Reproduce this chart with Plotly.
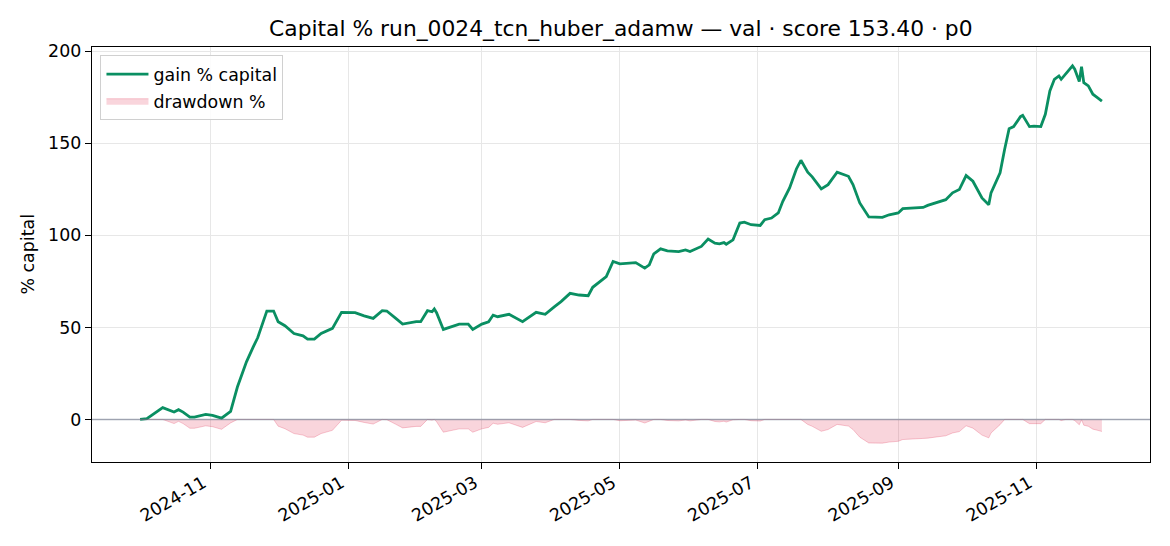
import numpy as np
import pandas as pd
import plotly.graph_objects as go

# ---- data ----
dates = [
    "2024-10-01", "2024-10-04", "2024-10-11", "2024-10-16", "2024-10-18", "2024-10-20",
    "2024-10-23", "2024-10-25", "2024-10-30", "2024-11-02", "2024-11-06", "2024-11-10",
    "2024-11-13", "2024-11-17", "2024-11-20", "2024-11-22", "2024-11-26", "2024-11-29",
    "2024-12-01", "2024-12-04", "2024-12-08", "2024-12-12", "2024-12-14", "2024-12-17",
    "2024-12-20", "2024-12-25", "2024-12-29", "2025-01-04", "2025-01-08", "2025-01-12",
    "2025-01-16", "2025-01-18", "2025-01-22", "2025-01-25", "2025-01-31", "2025-02-02",
    "2025-02-05", "2025-02-07", "2025-02-08", "2025-02-09", "2025-02-12", "2025-02-19",
    "2025-02-23", "2025-02-25", "2025-03-01", "2025-03-04", "2025-03-06", "2025-03-08",
    "2025-03-13", "2025-03-19", "2025-03-25", "2025-03-29", "2025-04-02", "2025-04-05",
    "2025-04-09", "2025-04-13", "2025-04-17", "2025-04-19", "2025-04-25", "2025-04-28",
    "2025-05-01", "2025-05-08", "2025-05-12", "2025-05-14", "2025-05-16", "2025-05-19",
    "2025-05-22", "2025-05-27", "2025-05-30", "2025-06-01", "2025-06-06", "2025-06-09",
    "2025-06-12", "2025-06-14", "2025-06-16", "2025-06-17", "2025-06-20", "2025-06-23",
    "2025-06-25", "2025-06-28", "2025-07-02", "2025-07-04", "2025-07-07", "2025-07-10",
    "2025-07-12", "2025-07-15", "2025-07-18", "2025-07-20", "2025-07-23", "2025-07-25",
    "2025-07-29", "2025-08-01", "2025-08-05", "2025-08-10", "2025-08-12", "2025-08-15",
    "2025-08-19", "2025-08-25", "2025-08-28", "2025-09-01", "2025-09-03", "2025-09-07",
    "2025-09-12", "2025-09-14", "2025-09-18", "2025-09-22", "2025-09-25", "2025-09-28",
    "2025-10-01", "2025-10-04", "2025-10-08", "2025-10-11", "2025-10-12", "2025-10-16",
    "2025-10-18", "2025-10-20", "2025-10-22", "2025-10-25", "2025-10-26", "2025-10-29",
    "2025-10-31", "2025-11-03", "2025-11-05", "2025-11-07", "2025-11-09", "2025-11-11",
    "2025-11-12", "2025-11-14", "2025-11-16", "2025-11-17", "2025-11-18", "2025-11-20",
    "2025-11-21", "2025-11-22", "2025-11-24", "2025-11-26", "2025-11-28", "2025-11-30",
]
gain_pct = [
    0.0, 0.4, 6.4, 4.0, 5.3, 4.0,
    1.3, 1.3, 2.7, 2.2, 0.7, 4.4,
    17.6, 31.3, 39.4, 44.5, 58.9, 58.9,
    53.1, 50.9, 46.7, 45.4, 43.6, 43.6,
    46.7, 49.5, 58.2, 58.0, 56.3, 54.9,
    59.1, 58.9, 54.9, 51.8, 53.1, 53.1,
    59.1, 58.5, 60.0, 58.0, 48.9, 51.8,
    51.8, 48.9, 51.8, 53.1, 56.7, 55.8,
    57.1, 53.1, 58.2, 57.1, 61.2, 64.0,
    68.5, 67.6, 67.2, 71.8, 77.6, 85.8,
    84.5, 85.2, 82.2, 84.0, 90.0, 92.7,
    91.6, 91.2, 92.1, 91.2, 94.0, 98.0,
    95.8, 95.4, 96.1, 95.2, 97.6, 106.7,
    107.2, 105.8, 105.4, 108.5, 109.4, 112.2,
    118.5, 125.8, 136.1, 140.8, 134.3, 131.8,
    125.3, 127.6, 134.3, 132.1, 127.6, 117.6,
    110.0, 109.8, 111.2, 112.2, 114.5, 114.9,
    115.2, 116.3, 117.9, 119.4, 123.1, 124.9,
    132.5, 129.4, 120.3, 116.7, 123.1, 134.0,
    146.7, 158.0, 159.1, 164.5, 165.2, 159.1,
    159.4, 159.1, 165.8, 178.5, 184.8, 186.6,
    184.8, 187.6, 190.3, 192.1, 190.3, 183.6,
    191.6, 183.0, 181.2, 176.7, 174.9, 173.0,
]
y_ticks = [0, 50, 100, 150, 200]
title_text = "Capital % run_0024_tcn_huber_adamw \u2014 val \u00b7 score 153.40 \u00b7 p0"

# ---- derived drawdown (capital relative to running peak) ----
x = pd.to_datetime(dates)
g = np.array(gain_pct)
cap = 1.0 + g / 100.0
peak = np.maximum.accumulate(cap)
drawdown_pct = (cap / peak - 1.0) * 100.0

# axis ranges like matplotlib's 5% margins
span = x[-1] - x[0]
x_range = [x[0] - span * 0.05, x[-1] + span * 0.05]
ymin, ymax = drawdown_pct.min(), g.max()
yspan = ymax - ymin
y_range = [ymin - 0.05 * yspan, ymax + 0.05 * yspan]

FONT = "DejaVu Sans"
GREEN = "#0a8f62"

# page body has an 8px margin, so the figure is drawn 8px lower/right
FIG_W, FIG_H = 1162, 538

fig = go.Figure()
fig.add_trace(go.Scatter(
    x=x, y=g, mode="lines", name="gain % capital",
    line=dict(color=GREEN, width=2.8), legendrank=1, legendgroup="a",
))
fig.add_trace(go.Scatter(
    x=x, y=drawdown_pct, mode="lines", name="drawdown %",
    fill="tozeroy", fillcolor="rgba(220,20,60,0.18)",
    line=dict(color="rgba(220,20,60,0.22)", width=1), legendrank=2, legendgroup="b",
))

fig.add_shape(type="line", xref="paper", yref="y", x0=0, x1=1, y0=0, y1=0,
              line=dict(color="rgba(110,118,140,0.6)", width=1.4), layer="above")

axis_common = dict(
    showline=True, linecolor="black", linewidth=1.4, mirror=True,
    ticks="outside", ticklen=6, tickwidth=1.4, tickcolor="black",
    showgrid=True, gridcolor="#e7e7e7", gridwidth=1.3,
    zeroline=False, automargin=False,
    tickfont=dict(family=FONT, size=17.4, color="black"),
)

fig.update_xaxes(
    range=x_range, tickformat="%Y-%m", dtick="M2", tick0="2024-11-01",
    tickangle=-30, ticklabelshift=-7, ticklabelstandoff=-3, **axis_common,
)
fig.update_yaxes(range=y_range, tickvals=y_ticks, **axis_common)

fig.add_annotation(
    text="% capital", xref="paper", yref="paper", x=-0.0605, y=0.5,
    textangle=-90, showarrow=False, xanchor="center", yanchor="middle",
    font=dict(family=FONT, size=17.4, color="black"),
)

fig.update_layout(
    width=FIG_W, height=FIG_H,
    margin=dict(l=84, r=20, t=39, b=84, autoexpand=False),
    paper_bgcolor="white", plot_bgcolor="white",
    title=dict(text=title_text, x=0.5274, xanchor="center", y=1 - 20 / FIG_H, yanchor="middle",
               font=dict(family=FONT, size=21.8, color="black")),
    legend=dict(x=0.008, y=0.98, xanchor="left", yanchor="top", itemwidth=42,
                bgcolor="rgba(255,255,255,0.85)", bordercolor="#d0d0d0", borderwidth=1,
                font=dict(family=FONT, size=17.4, color="black"), tracegroupgap=1),
    showlegend=True,
)

fig.write_html("out.html")
